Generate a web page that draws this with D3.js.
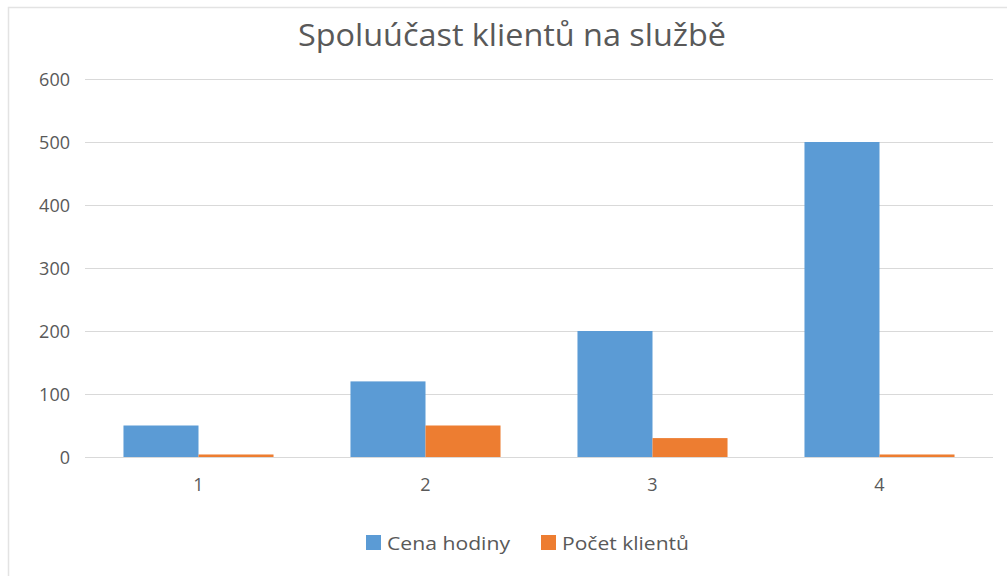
<!DOCTYPE html>
<html><head><meta charset="utf-8">
<script src="https://cdn.jsdelivr.net/npm/d3@7"></script>
<style>html,body{margin:0;padding:0;background:#fff;}svg{display:block;font-family:"Open Sans",sans-serif;}</style>
</head><body>
<svg id="c" width="1007" height="576"></svg>
<script>
const categories = ["1", "2", "3", "4"];
const seriesNames = ["Cena hodiny", "Počet klientů"];
const cenaHodiny = [50, 120, 200, 500];
const pocetKlientu = [4, 50, 30, 4];
const yTicks = [0, 100, 200, 300, 400, 500, 600];
const colors = ["#5B9BD5", "#ED7D31"];
const title = "Spoluúčast klientů na službě";

const svg = d3.select("#c");
// chart area border
svg.append("path").attr("d", "M8.5,580 V7.5 H1010").attr("fill", "none").attr("stroke", "#e3e3e3").attr("stroke-width", 1.5);

const pLeft = 85, pRight = 993, pTop = 79, pBottom = 457;
const x = d3.scaleBand().domain(categories).range([pLeft, pRight]).paddingInner(0.339).paddingOuter(0.1695);
const xs = d3.scaleBand().domain(seriesNames).range([0, x.bandwidth()]);
const y = d3.scaleLinear().domain([0, 600]).range([pBottom, pTop]);

// gridlines
svg.append("g").selectAll("line").data(yTicks).join("line")
  .attr("x1", pLeft).attr("x2", pRight)
  .attr("y1", d => Math.round(y(d)) + 0.5).attr("y2", d => Math.round(y(d)) + 0.5)
  .attr("stroke", "#d9d9d9").attr("stroke-width", 1.2);

// y labels
const yAxis = d3.axisLeft(y).tickValues(yTicks).tickSize(0).tickPadding(0);
const ya = svg.append("g").attr("transform", `translate(70,0)`).call(yAxis);
ya.select(".domain").remove();
ya.selectAll("text").attr("fill", "#595959").style("font-size", "18px").style("font-family", "'Open Sans',sans-serif").attr("dy", "0.35em");

// bars
const data = [cenaHodiny, pocetKlientu];
const g = svg.append("g");
categories.forEach((c, i) => {
  seriesNames.forEach((s, j) => {
    g.append("rect")
      .attr("x", x(c) + xs(s)).attr("width", xs.bandwidth())
      .attr("y", y(data[j][i])).attr("height", pBottom - y(data[j][i]))
      .attr("fill", colors[j]);
  });
});
// baseline redraw on top
svg.append("line").attr("x1", pLeft).attr("x2", pRight).attr("y1", pBottom + 0.5).attr("y2", pBottom + 0.5).attr("stroke", "#d9d9d9").attr("stroke-width", 1.2);

// x labels
const xAxis = d3.axisBottom(x).tickSize(0).tickPadding(0);
const xa = svg.append("g").attr("transform", `translate(0,${pBottom + 21})`).call(xAxis);
xa.select(".domain").remove();
xa.selectAll("text").attr("fill", "#595959").style("font-size", "18px").style("font-family", "'Open Sans',sans-serif").attr("dy", "0.71em");

// title
svg.append("text").attr("x", 512).attr("y", 46).attr("text-anchor", "middle")
  .attr("fill", "#595959").style("font-size", "31px")
  .attr("textLength", 428).attr("lengthAdjust", "spacingAndGlyphs").text(title);

// legend
const legend = svg.append("g");
const items = [{x: 366, w: 123}, {x: 541, w: 127}];
seriesNames.forEach((s, j) => {
  legend.append("rect").attr("x", items[j].x).attr("y", 535).attr("width", 15).attr("height", 15).attr("fill", colors[j]);
  legend.append("text").attr("x", items[j].x + 21).attr("y", 543).attr("dy", "0.35em")
    .attr("fill", "#595959").style("font-size", "19px")
    .attr("textLength", items[j].w).attr("lengthAdjust", "spacingAndGlyphs").text(s);
});
</script>
</body></html>
